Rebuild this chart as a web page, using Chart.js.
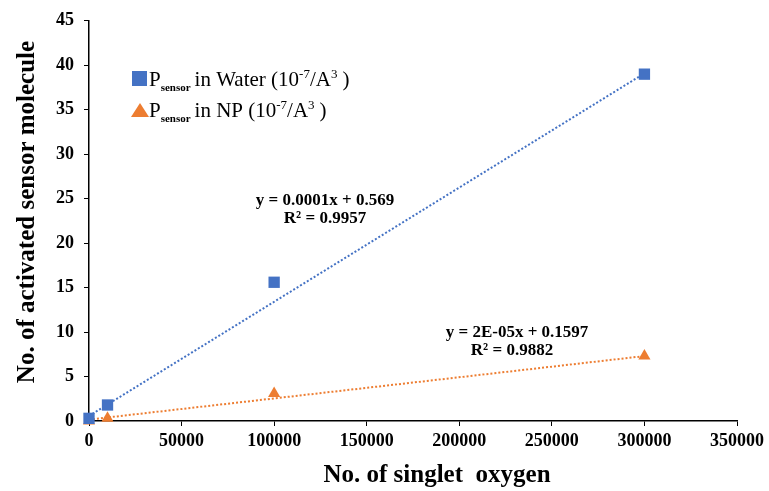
<!DOCTYPE html>
<html>
<head>
<meta charset="utf-8">
<script src="https://cdn.jsdelivr.net/npm/chart.js@4"></script>
<style>
  body { margin: 0; background: #fff; }
  #wrap { width: 769px; height: 491px; }
</style>
</head>
<body>
<div id="wrap"><canvas id="oxygenChart" width="769" height="491"></canvas></div>
<script>
// singlet oxygen count vs activated sensor molecules
var singletOxygen = [0, 10000, 100000, 300000];
var waterValues = [0.3, 1.8, 15.6, 39.0];
var npValues = [0.0, 0.3, 3.1, 7.3];

// linear trendlines (slope shown rounded in the equations)
var waterFit = { slope: 0.0001284, intercept: 0.569 };
var npFit = { slope: 0.0000238, intercept: 0.1597 };
var fitRange = [0, 300000];

var xTicks = [0, 50000, 100000, 150000, 200000, 250000, 300000, 350000];

var xTitle = "No. of singlet  oxygen";
var yTitle = "No. of activated sensor molecule";

var blue = "#4472C4";
var orange = "#ED7D31";
var serif = "'Liberation Serif', 'Times New Roman', serif";

function toPoints(xs, ys) {
    var pts = [];
    for (var i = 0; i < xs.length; i++) {
        pts.push({ x: xs[i], y: ys[i] });
    }
    return pts;
}

function fitLine(fit) {
    return fitRange.map(function (x) {
        return { x: x, y: fit.slope * x + fit.intercept };
    });
}

// legend with subscript / superscript text, axis titles and trendline equations
var annotations = {
    id: "annotations",
    afterDraw: function (chart) {
        var ctx = chart.ctx;
        ctx.save();
        ctx.textBaseline = "alphabetic";

        function legendRow(y, label, marker, color) {
            var x = 132;
            ctx.fillStyle = color;
            if (marker === "square") {
                ctx.fillRect(x, y - 15, 15, 15);
            } else {
                ctx.beginPath();
                ctx.moveTo(x - 1, y);
                ctx.lineTo(x + 8, y - 14);
                ctx.lineTo(x + 17, y);
                ctx.closePath();
                ctx.fill();
            }
            ctx.fillStyle = "#000";
            var tx = x + 17;
            ctx.font = "21px " + serif;
            ctx.fillText("P", tx, y);
            tx += ctx.measureText("P").width;
            ctx.font = "bold 11px " + serif;
            ctx.fillText("sensor", tx, y + 5);
            tx += ctx.measureText("sensor").width + 4;
            ctx.font = "21px " + serif;
            ctx.fillText(label + " (10", tx, y);
            tx += ctx.measureText(label + " (10").width;
            ctx.font = "13px " + serif;
            ctx.fillText("-7", tx, y - 8);
            tx += ctx.measureText("-7").width;
            ctx.font = "21px " + serif;
            ctx.fillText("/A", tx, y);
            tx += ctx.measureText("/A").width;
            ctx.font = "13px " + serif;
            ctx.fillText("3", tx, y - 8);
            tx += ctx.measureText("3").width + 5;
            ctx.font = "21px " + serif;
            ctx.fillText(")", tx, y);
        }
        legendRow(86, "in Water", "square", blue);
        legendRow(117, "in NP", "triangle", orange);

        ctx.font = "bold 17px " + serif;
        ctx.textAlign = "center";
        ctx.fillStyle = "#000";
        ctx.fillText("y = 0.0001x + 0.569", 325, 205);
        ctx.fillText("R\u00B2 = 0.9957", 325, 223);
        ctx.fillText("y = 2E-05x + 0.1597", 517, 337);
        ctx.fillText("R\u00B2 = 0.9882", 512, 355);

        // axis titles
        ctx.font = "bold 25px " + serif;
        ctx.fillText(xTitle, 437, 482);
        ctx.translate(34, 212);
        ctx.rotate(-Math.PI / 2);
        ctx.fillText(yTitle, 0, 0);
        ctx.restore();
    }
};

var ctx = document.getElementById("oxygenChart");

var chartData = {
    datasets: [{
        label: "Water",
        data: toPoints(singletOxygen, waterValues),
        showLine: false,
        pointStyle: "rect",
        pointRadius: 8,
        backgroundColor: blue,
        borderColor: blue,
        borderWidth: 0,
        clip: false,
        order: 1
    }, {
        label: "NP",
        data: toPoints(singletOxygen, npValues),
        showLine: false,
        pointStyle: "triangle",
        pointRadius: 7,
        backgroundColor: orange,
        borderColor: orange,
        borderWidth: 0,
        clip: false,
        order: 1
    }, {
        label: "Water fit",
        data: fitLine(waterFit),
        showLine: true,
        pointRadius: 0,
        borderColor: blue,
        borderWidth: 2,
        borderDash: [2, 2],
        order: 2
    }, {
        label: "NP fit",
        data: fitLine(npFit),
        showLine: true,
        pointRadius: 0,
        borderColor: orange,
        borderWidth: 2,
        borderDash: [2, 2],
        order: 2
    }]
};

var config = {
    type: "scatter",
    data: chartData,
    plugins: [annotations],
    options: {
        responsive: false,
        animation: false,
        layout: { padding: { top: 15, right: 30, left: 0, bottom: 0 } },
        plugins: {
            legend: { display: false },
            tooltip: { enabled: false }
        },
        scales: {
            x: {
                type: "linear",
                min: 0,
                max: 350000,
                afterBuildTicks: function (scale) {
                    scale.ticks = xTicks.map(function (v) { return { value: v }; });
                },
                afterFit: function (scale) { scale.height = 70; },
                border: { color: "#000", width: 1.5 },
                grid: { drawOnChartArea: false, color: "#000", tickLength: 5 },
                ticks: {
                    color: "#000",
                    maxRotation: 0,
                    padding: 5,
                    font: { family: serif, size: 18, weight: "bold" },
                    callback: function (v) { return String(v); }
                }
            },
            y: {
                min: 0,
                max: 45,
                afterFit: function (scale) { scale.width = 89; },
                border: { color: "#000", width: 1.5 },
                grid: { drawOnChartArea: false, color: "#000", tickLength: 5 },
                ticks: {
                    stepSize: 5,
                    color: "#000",
                    padding: 10,
                    font: { family: serif, size: 18, weight: "bold" }
                }
            }
        }
    }
};

// Create the chart
var scatterChart = new Chart(ctx, config);
</script>
</body>
</html>
